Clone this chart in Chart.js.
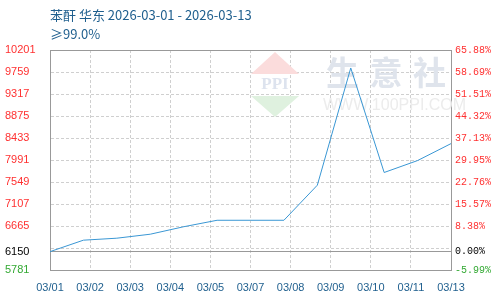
<!DOCTYPE html>
<html>
<head>
<meta charset="utf-8">
<script src="https://cdn.jsdelivr.net/npm/chart.js@4.4.1/dist/chart.umd.min.js"></script>
<style>
    body { margin: 0; background: #fff; }
    #wrap { width: 500px; height: 300px; position: relative; }
</style>
</head>
<body>
<div id="wrap"><canvas id="priceChart"></canvas></div>
<script>
// Daily prices, 03/01 .. 03/13
var dates = ['03/01', '03/02', '03/03', '03/04', '03/05', '03/06', '03/07',
             '03/08', '03/09', '03/10', '03/11', '03/12', '03/13'];
var prices = [6150, 6380, 6420, 6500, 6650, 6780, 6780, 6780, 7485, 9840, 7740, 7980, 8320];

// Axis labels as printed on the picture
var xTickLabels = ['03/01', '03/02', '03/03', '03/04', '03/05', '03/07', '03/08', '03/09', '03/10', '03/11', '03/13'];
var leftTicks = [10201, 9759, 9317, 8875, 8433, 7991, 7549, 7107, 6665, 6150, 5781];
var rightTicks = ['65.88%', '58.69%', '51.51%', '44.32%', '37.13%', '29.95%', '22.76%', '15.57%', '8.38%', '0.00%', '-5.99%'];
var gridOnly = [6223]; // dashed line without a label
var basePrice = 6150;

var titleText = '苯酐 华东 2026-03-01 - 2026-03-13';
var subTitleText = '≥99.0%';

var yMin = Math.min.apply(null, leftTicks);
var yMax = Math.max.apply(null, leftTicks);
var yTickValues = leftTicks.concat(gridOnly).sort(function (a, b) { return a - b; });

function labelColor(v) {
    if (v === basePrice) return '#000';
    if (v < basePrice) return '#33a933';
    return '#ff3030';
}

function yGridSolid(v) {
    return v === basePrice || v === yMin || v === yMax;
}

// Title + watermark
var decorPlugin = {
    id: 'decor',
    beforeDatasetsDraw: function (chart) {
        var c = chart.ctx;
        var a = chart.chartArea;
        c.save();
        // logo diamond
        var cx = a.left + 225, top = a.top + 2;
        c.fillStyle = '#fbdcdc';
        c.beginPath();
        c.moveTo(cx, top);
        c.lineTo(cx + 24, top + 22);
        c.lineTo(cx - 24, top + 22);
        c.closePath();
        c.fill();
        c.fillStyle = '#dff1df';
        c.beginPath();
        c.moveTo(cx - 24, top + 44);
        c.lineTo(cx + 24, top + 44);
        c.lineTo(cx, top + 65);
        c.closePath();
        c.fill();
        c.fillStyle = '#dde3ee';
        c.font = 'bold 17px "Liberation Serif"';
        c.textAlign = 'center';
        c.textBaseline = 'middle';
        c.fillText('PPI', cx, top + 33);
        // site name
        c.fillStyle = '#dfe4ec';
        c.font = 'bold 33px "Noto Sans CJK SC"';
        c.textAlign = 'left';
        ['生', '意', '社'].forEach(function (ch, i) {
            c.fillText(ch, a.left + 276 + i * 43.5, a.top + 22);
        });
        c.fillStyle = '#ececec';
        c.font = '16px "Liberation Sans"';
        c.fillText('WWW.100PPI.COM', a.left + 273, a.top + 56);
        c.restore();
    },
    afterDraw: function (chart) {
        var c = chart.ctx;
        c.save();
        c.fillStyle = '#1f5f8e';
        c.textAlign = 'left';
        c.textBaseline = 'middle';
        c.font = '13px "Noto Sans CJK SC"';
        c.fillText(titleText, 50, 15);
        c.fillText(subTitleText, 50, 34);
        c.restore();
    }
};

var ctx = document.getElementById('priceChart').getContext('2d');
var priceChart = new Chart(ctx, {
    type: 'line',
    data: {
        datasets: [{
            data: dates.map(function (d, i) { return { x: i, y: prices[i] }; }),
            borderColor: '#3a97d4',
            borderWidth: 1,
            pointRadius: 0,
            tension: 0,
            fill: false
        }]
    },
    options: {
        responsive: true,
        maintainAspectRatio: false,
        animation: false,
        layout: { padding: { top: 50, left: 5, right: 0, bottom: 0 } },
        plugins: {
            legend: { display: false },
            tooltip: { enabled: false }
        },
        scales: {
            x: {
                type: 'linear',
                min: 0,
                max: dates.length - 1,
                afterBuildTicks: function (scale) {
                    var n = xTickLabels.length;
                    scale.ticks = xTickLabels.map(function (_, i) {
                        return { value: i * (dates.length - 1) / (n - 1) };
                    });
                },
                afterFit: function (scale) { scale.height = 30; },
                ticks: {
                    autoSkip: false,
                    maxRotation: 0,
                    padding: 11,
                    color: '#1f5f8e',
                    font: { family: 'Liberation Sans', size: 11 },
                    callback: function (v, i) { return xTickLabels[i]; }
                },
                grid: {
                    drawTicks: false,
                    color: function (c) {
                        if (c.type !== 'tick') return '#999';
                        return (c.index === 0 || c.index === xTickLabels.length - 1) ? '#999' : '#cfcfcf';
                    }
                },
                border: {
                    color: '#999',
                    dash: function (c) {
                        if (c.type !== 'tick') return [];
                        return (c.index === 0 || c.index === xTickLabels.length - 1) ? [] : [3, 2];
                    }
                }
            },
            y: {
                position: 'left',
                min: yMin,
                max: yMax,
                afterBuildTicks: function (scale) {
                    scale.ticks = yTickValues.map(function (v) { return { value: v }; });
                },
                afterFit: function (scale) { scale.width = 45; },
                ticks: {
                    crossAlign: 'far',
                    color: function (c) { return labelColor(c.tick.value); },
                    font: { family: 'Liberation Sans', size: 11 },
                    callback: function (v) { return leftTicks.indexOf(v) >= 0 ? String(v) : ''; }
                },
                grid: {
                    drawTicks: false,
                    color: function (c) {
                        if (c.type !== 'tick') return '#999';
                        return yGridSolid(c.tick.value) ? '#999' : '#cfcfcf';
                    }
                },
                border: {
                    color: '#999',
                    dash: function (c) {
                        if (c.type !== 'tick') return [];
                        return yGridSolid(c.tick.value) ? [] : [3, 2];
                    }
                }
            },
            y2: {
                position: 'right',
                min: yMin,
                max: yMax,
                afterBuildTicks: function (scale) {
                    scale.ticks = yTickValues.map(function (v) { return { value: v }; });
                },
                afterFit: function (scale) { scale.width = 49; },
                ticks: {
                    padding: 4,
                    color: function (c) { return labelColor(c.tick.value); },
                    font: { family: 'Liberation Mono', size: 10 },
                    callback: function (v) {
                        var i = leftTicks.indexOf(v);
                        return i >= 0 ? rightTicks[i] : '';
                    }
                },
                grid: { drawOnChartArea: false, drawTicks: false },
                border: { color: '#999' }
            }
        }
    },
    plugins: [decorPlugin]
});
</script>
</body>
</html>
